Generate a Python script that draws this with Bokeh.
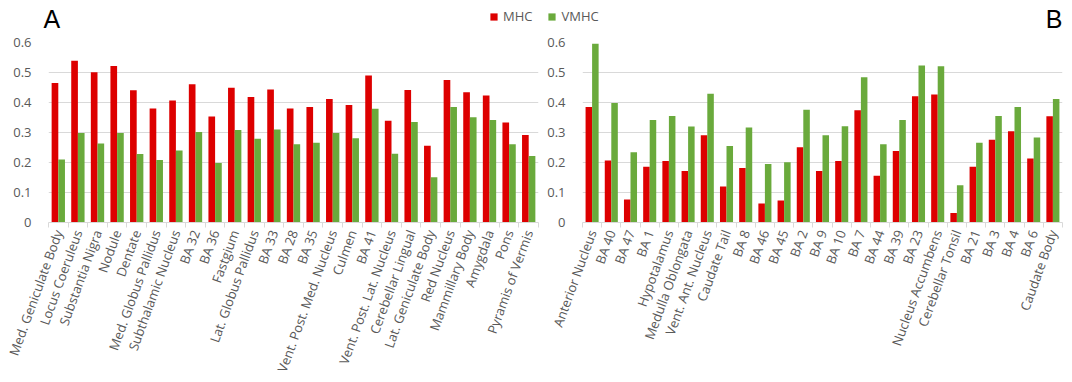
import math
import numpy as np
from bokeh.plotting import figure
from bokeh.layouts import column, row
from bokeh.models import (Range1d, FixedTicker, CustomJSTickFormatter, Legend,
                          LegendItem, Label, ColumnDataSource)
from bokeh.transform import dodge
from bokeh.embed import file_html
from bokeh.resources import INLINE

# Panel A: regions where MHC exceeds VMHC
regions_a = ["Med. Geniculate Body", "Locus Coeruleus", "Substantia Nigra", "Nodule",
             "Dentate", "Med. Globus Pallidus", "Subthalamic Nucleus", "BA 32", "BA 36",
             "Fastgium", "Lat. Globus Pallidus", "BA 33", "BA 28", "BA 35",
             "Vent. Post. Med. Nucleus", "Culmen", "BA 41", "Vent. Post. Lat. Nucleus",
             "Cerebellar Lingual", "Lat. Geniculate Body", "Red Nucleus", "Mammillary Body",
             "Amygdala", "Pons", "Pyramis of Vermis"]
mhc_a = [0.465, 0.539, 0.501, 0.522, 0.441, 0.380, 0.407, 0.461, 0.353,
         0.449, 0.418, 0.443, 0.380, 0.385, 0.412, 0.392, 0.490, 0.339,
         0.442, 0.256, 0.475, 0.434, 0.423, 0.333, 0.292]
vmhc_a = [0.210, 0.298, 0.263, 0.298, 0.228, 0.208, 0.240, 0.302, 0.198,
          0.308, 0.279, 0.310, 0.261, 0.266, 0.298, 0.281, 0.379, 0.229,
          0.335, 0.151, 0.385, 0.351, 0.342, 0.261, 0.222]

# Panel B: regions where VMHC exceeds MHC
regions_b = ["Anterior Nucleus", "BA 40", "BA 47", "BA 1", "Hypotalamus",
             "Medulla Oblongata", "Vent. Ant. Nucleus", "Caudate Tail", "BA 8", "BA 46",
             "BA 45", "BA 2", "BA 9", "BA 10", "BA 7", "BA 44", "BA 39", "BA 23",
             "Nucleus Accumbens", "Cerebellar Tonsil", "BA 21", "BA 3", "BA 4", "BA 6",
             "Caudate Body"]
mhc_b = [0.385, 0.207, 0.077, 0.186, 0.205, 0.172, 0.291, 0.120, 0.182, 0.063,
         0.073, 0.251, 0.172, 0.205, 0.374, 0.156, 0.238, 0.421, 0.427, 0.032,
         0.186, 0.276, 0.304, 0.213, 0.354]
vmhc_b = [0.596, 0.398, 0.234, 0.342, 0.355, 0.320, 0.429, 0.255, 0.317, 0.195,
          0.201, 0.376, 0.291, 0.321, 0.484, 0.261, 0.342, 0.523, 0.521, 0.124,
          0.266, 0.355, 0.385, 0.283, 0.412]

y_ticks = [0, 0.1, 0.2, 0.3, 0.4, 0.5, 0.6]
series_names = ["MHC", "VMHC"]

RED = "#DD0000"
GREEN = "#6AAA3C"
TEXT = "#595959"
GRID = "#D9D9D9"
FONT = "Open Sans"
LETTER_FONT = "Liberation Sans"
BAR_W = 0.34
HDR_H = 33


def panel(names, mhc, vmhc, width, left, right):
    n = len(names)
    p = figure(width=width, height=382 - HDR_H, x_range=Range1d(0, n),
               y_range=Range1d(0, 0.6), output_backend="svg", toolbar_location=None,
               title_location=None, min_border_left=left, min_border_right=right,
               min_border_top=42 - HDR_H, min_border_bottom=160)
    centers = np.arange(n) + 0.5
    src = ColumnDataSource(dict(x=centers, mhc=mhc, vmhc=vmhc))
    p.vbar(x=dodge("x", -BAR_W / 2, range=p.x_range), top="mhc", width=BAR_W,
           source=src, fill_color=RED, line_color=None)
    p.vbar(x=dodge("x", BAR_W / 2, range=p.x_range), top="vmhc", width=BAR_W,
           source=src, fill_color=GREEN, line_color=None)

    xa = p.xaxis[0]
    xa.ticker = FixedTicker(ticks=list(centers), minor_ticks=list(range(n + 1)))
    xa.formatter = CustomJSTickFormatter(
        args=dict(names=names),
        code="const i = Math.floor(tick); return (i >= 0 && i < names.length) ? names[i] : '';")
    xa.major_label_orientation = math.radians(70)
    xa.major_tick_out = 0
    xa.major_tick_in = 0
    xa.minor_tick_out = 5
    xa.minor_tick_in = 0
    xa.minor_tick_line_color = GRID
    xa.axis_line_color = GRID
    xa.major_label_standoff = 3
    xa.major_label_text_font = FONT
    xa.major_label_text_font_size = "13px"
    xa.major_label_text_color = TEXT

    ya = p.yaxis[0]
    ya.ticker = FixedTicker(ticks=y_ticks, minor_ticks=[])
    ya.formatter = CustomJSTickFormatter(code="return tick === 0 ? '0' : tick.toFixed(1);")
    ya.axis_line_color = None
    ya.major_tick_line_color = None
    ya.minor_tick_line_color = None
    ya.major_label_standoff = 11
    ya.major_label_text_font = FONT
    ya.major_label_text_font_size = "13px"
    ya.major_label_text_color = TEXT

    p.xgrid.visible = False
    p.ygrid.grid_line_color = GRID
    p.outline_line_color = None
    return p


pa = panel(regions_a, mhc_a, vmhc_a, width=544, left=48, right=6)
pb = panel(regions_b, mhc_b, vmhc_b, width=528, left=33, right=10)

# Header strip with panel letters and the shared legend (pixel-sized ranges)
hdr = figure(width=1072, height=HDR_H, x_range=Range1d(0, 1072), y_range=Range1d(0, HDR_H),
             x_axis_type=None, y_axis_type=None, output_backend="svg",
             toolbar_location=None, title_location=None, min_border=0)
hdr.grid.visible = False
hdr.outline_line_color = None
# zero-height placeholders that only carry the legend swatch styles
r_mhc = hdr.vbar(x=[0], top=[0], bottom=[0], width=0, fill_color=RED, line_color=None)
r_vmhc = hdr.vbar(x=[0], top=[0], bottom=[0], width=0, fill_color=GREEN, line_color=None)
legend = Legend(items=[LegendItem(label=series_names[0], renderers=[r_mhc]),
                       LegendItem(label=series_names[1], renderers=[r_vmhc])],
                orientation="horizontal", location=(489, HDR_H - 25),
                glyph_width=9, glyph_height=9, label_height=14, label_standoff=5,
                spacing=15, padding=0, margin=0, border_line_color=None,
                background_fill_alpha=0, label_text_font=FONT,
                label_text_font_size="13px", label_text_color=TEXT)
hdr.add_layout(legend)
hdr.add_layout(Label(x=43, y=HDR_H - 18, text="A", text_font=LETTER_FONT,
                     text_font_size="25px", text_color="black", text_baseline="middle"))
hdr.add_layout(Label(x=1062, y=HDR_H - 18, text="B", text_font=LETTER_FONT,
                     text_font_size="25px", text_color="black", text_align="right",
                     text_baseline="middle"))

layout = column(hdr, row(pa, pb))
open("out.html", "w").write(file_html(layout, INLINE))
